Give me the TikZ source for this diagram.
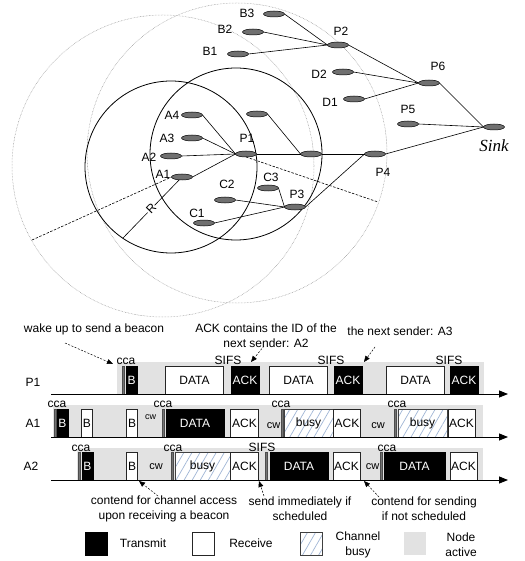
\documentclass[tikz,border=0pt]{standalone}
\usepackage{fontspec}
\setmainfont{Liberation Sans}
\newfontfamily\sinkfont{Liberation Serif}
\usetikzlibrary{shapes.geometric,arrows.meta,patterns.meta}
\definecolor{bandgray}{RGB}{226,226,226}
\definecolor{hatchblue}{RGB}{160,182,214}
\definecolor{nodegray}{RGB}{112,112,112}
\definecolor{fargray}{RGB}{150,150,150}
\begin{document}
\begin{tikzpicture}[x=1pt,y=-1pt,
  every node/.style={font=\fontsize{12}{15}\selectfont},
  sn/.style={ellipse, draw=black, fill=nodegray, line width=0.5pt, minimum width=21pt, minimum height=6pt, inner sep=0pt, outer sep=0pt},
  lbl/.style={inner sep=0pt},
  link/.style={line width=0.6pt},
  ringline/.style={line width=0.8pt},
  farline/.style={draw=fargray, line width=0.5pt, dash pattern=on 0.6pt off 0.9pt},
  rline/.style={line width=0.6pt, dash pattern=on 2.5pt off 1.5pt},
  actband/.style={fill=bandgray, draw=none},
  boxbase/.style={minimum height=28pt, inner sep=0pt, outer sep=0pt, line width=0.6pt},
  txb/.style={boxbase, draw=black, fill=black, text=white},
  rxb/.style={boxbase, draw=black!85, fill=white},
  busyb/.style={boxbase, draw=black!75, preaction={fill=white}, pattern={Lines[angle=60,distance=7pt,line width=0.7pt]}, pattern color=hatchblue},
  ccam/.style={minimum width=2pt, minimum height=28pt, inner sep=0pt, outer sep=0pt, fill=black!55, draw=black!70, line width=0.3pt},
  small/.style={inner sep=0pt, anchor=base},
  axisline/.style={line width=0.8pt, -{Triangle[length=9pt,width=7pt]}},
  note/.style={line width=0.5pt, dash pattern=on 2pt off 1.5pt, -{Triangle[length=6pt,width=5pt]}},
  twoline/.style={align=center, inner sep=0pt}
]
\useasboundingbox (0,0) rectangle (524,561);

% ---------------- range circles ----------------
\draw[farline] (163,166) circle[radius=151pt];
\draw[farline] (237,153) circle[radius=150pt];
\draw[ringline] (171,167) circle[radius=86pt];
\draw[ringline] (236,154) circle[radius=86pt];

% ---------------- sensor nodes ----------------
\node[sn] (b3) at (274,14) {};
\node[sn] (b2) at (253,32) {};
\node[sn] (b1) at (238,54) {};
\node[sn] (p2) at (338,45) {};
\node[sn] (d2) at (343,72) {};
\node[sn] (d1) at (354,99) {};
\node[sn] (p6) at (429,83) {};
\node[sn] (p5) at (408,124) {};
\node[sn] (sink) at (494,127) {};
\node[sn] (a4) at (192,115) {};
\node[sn] (a3) at (192,138) {};
\node[sn] (a2) at (171,156) {};
\node[sn] (a1) at (182,177) {};
\node[sn] (p1) at (246,154) {};
\node[sn] (u1) at (257,114) {};
\node[sn] (m1) at (311,154) {};
\node[sn] (p4) at (375,154) {};
\node[sn] (c3) at (268,188) {};
\node[sn] (c2) at (225,200) {};
\node[sn] (c1) at (204,223) {};
\node[sn] (p3) at (295,207) {};

% labels
\node[lbl] (lb3) at (247,13) {B3};
\node[lbl] (lb2) at (225,29) {B2};
\node[lbl] (lb1) at (210,51) {B1};
\node[lbl] (lp2) at (341,31) {P2};
\node[lbl] (ld2) at (319,74) {D2};
\node[lbl] (ld1) at (330,102) {D1};
\node[lbl] (lp6) at (438,66) {P6};
\node[lbl] (lp5) at (408,109) {P5};
\node[lbl, font=\sinkfont\itshape\fontsize{17}{20}\selectfont] (lsink) at (494,146) {Sink};
\node[lbl] (lp4) at (383,172) {P4};
\node[lbl] (la4) at (172,115) {A4};
\node[lbl] (la3) at (167,138) {A3};
\node[lbl] (la2) at (149,157) {A2};
\node[lbl] (la1) at (163,174) {A1};
\node[lbl] (lp1) at (247,138) {P1};
\node[lbl] (lc2) at (227,184) {C2};
\node[lbl] (lc1) at (197,213) {C1};
\node[lbl] (lc3) at (271,177) {C3};
\node[lbl] (lp3) at (297,194) {P3};

% links
\draw[link] (b3.east) -- (p2.west);
\draw[link] (b2.east) -- (p2.west);
\draw[link] (b1.east) -- (p2.west);
\draw[link] (p2.east) -- (p6.west);
\draw[link] (d2.east) -- (p6.west);
\draw[link] (d1.east) -- (p6.west);
\draw[link] (p6.east) -- (sink.west);
\draw[link] (p5.east) -- (sink.west);
\draw[link] (p4.east) -- (sink.west);
\draw[link] (a4.east) -- (p1.west);
\draw[link] (a3.east) -- (p1.west);
\draw[link] (a2.east) -- (p1.west);
\draw[link] (a1.east) -- (p1.west);
\draw[link] (p1.east) -- (m1.west);
\draw[link] (m1.east) -- (p4.west);
\draw[link] (u1.east) -- (m1.west);
\draw[link] (c3.east) -- (p3.west);
\draw[link] (c2.east) -- (p3.west);
\draw[link] (c1.east) -- (p3.west);
\draw[link] (p3.east) -- (p4.west);

% radii
\coordinate (rend) at (123,238);
\draw[link] (a1) -- (rend) node[pos=0.5, rotate=46, fill=white, inner sep=0.6pt] (rlab) {R};
\coordinate (farend1) at (32,240);
\draw[rline] (farend1) -- (a1.west);
\coordinate (farend2) at (378,202);
\draw[rline] (p1.south) -- (farend2);

% ---------------- timeline: P1 ----------------
\fill[actband] (117,362) rectangle (484,394);
\node[ccam] (p1c1) at (123,380) {};
\node[txb, minimum width=11pt] (p1b) at (131.5,380) {B};
\node[rxb, minimum width=58pt] (p1d1) at (194.5,380) {DATA};
\node[txb, minimum width=28pt] (p1k1) at (245,380) {ACK};
\node[rxb, minimum width=58pt] (p1d2) at (298.5,380) {DATA};
\node[txb, minimum width=28pt] (p1k2) at (348,380) {ACK};
\node[rxb, minimum width=58pt] (p1d3) at (415.5,380) {DATA};
\node[txb, minimum width=28pt] (p1k3) at (464,380) {ACK};
\coordinate (p1s) at (51,394);
\coordinate (p1e) at (508,394);
\draw[axisline] (p1s) -- (p1e);
\node[lbl] (rowp1) at (33,382) {P1};
\node[small] (p1cca) at (126,364) {cca};
\node[small] (p1sifs1) at (228,364) {SIFS};
\node[small] (p1sifs2) at (331,364) {SIFS};
\node[small] (p1sifs3) at (449,364) {SIFS};

% ---------------- timeline: A1 ----------------
\fill[actband] (53,405) rectangle (483,437);
\node[ccam] (a1c1) at (55,423) {};
\node[txb, minimum width=11pt] (a1b1) at (62.5,423) {B};
\node[rxb, minimum width=11pt] (a1b2) at (87,423) {B};
\node[rxb, minimum width=11pt] (a1b3) at (132,423) {B};
\node[small, font=\fontsize{9}{10}\selectfont] (a1cw1) at (150.5,419) {cw};
\node[ccam] (a1c2) at (163,423) {};
\node[txb, minimum width=58pt] (a1d1) at (195,423) {DATA};
\node[rxb, minimum width=28pt] (a1k1) at (244.5,423) {ACK};
\node[small, font=\fontsize{11}{12}\selectfont] (a1cw2) at (273.5,428) {cw};
\node[ccam] (a1c3) at (282,423) {};
\node[busyb, minimum width=49pt] (a1y1) at (308.5,423) {busy};
\node[rxb, minimum width=27pt] (a1k2) at (347,423) {ACK};
\node[small, font=\fontsize{11}{12}\selectfont] (a1cw3) at (378,428) {cw};
\node[ccam] (a1c4) at (395,423) {};
\node[busyb, minimum width=49pt] (a1y2) at (422.5,423) {busy};
\node[rxb, minimum width=27pt] (a1k3) at (461.5,423) {ACK};
\coordinate (a1s) at (51,437);
\coordinate (a1e) at (508,437);
\draw[axisline] (a1s) -- (a1e);
\node[lbl] (rowa1) at (33,423) {A1};
\node[small] (a1cca1) at (57,407.5) {cca};
\node[small] (a1cca2) at (163,407.5) {cca};
\node[small] (a1cca3) at (281,407.5) {cca};
\node[small] (a1cca4) at (397,407.5) {cca};

% ---------------- timeline: A2 ----------------
\fill[actband] (77,448) rectangle (483,480);
\node[ccam] (a2c1) at (79,466) {};
\node[txb, minimum width=11pt] (a2b1) at (87.5,466) {B};
\node[rxb, minimum width=11pt] (a2b2) at (132,466) {B};
\node[small, font=\fontsize{11}{12}\selectfont] (a2cw1) at (156,469) {cw};
\node[ccam] (a2c2) at (172,466) {};
\node[busyb, minimum width=55pt] (a2y1) at (202.5,466) {busy};
\node[rxb, minimum width=28pt] (a2k1) at (244.5,466) {ACK};
\node[ccam] (a2c3) at (266,466) {};
\node[txb, minimum width=58pt] (a2d1) at (299,466) {DATA};
\node[rxb, minimum width=27pt] (a2k2) at (346.5,466) {ACK};
\node[small, font=\fontsize{11}{12}\selectfont] (a2cw2) at (372.5,469) {cw};
\node[ccam] (a2c4) at (381,466) {};
\node[txb, minimum width=61pt] (a2d2) at (414.5,466) {DATA};
\node[rxb, minimum width=27pt] (a2k3) at (463.5,466) {ACK};
\coordinate (a2s) at (51,480);
\coordinate (a2e) at (508,480);
\draw[axisline] (a2s) -- (a2e);
\node[lbl] (rowa2) at (31,466) {A2};
\node[small] (a2cca1) at (81,451) {cca};
\node[small] (a2cca2) at (173,451) {cca};
\node[small] (a2sifs) at (262,451) {SIFS};
\node[small] (a2cca3) at (387,451) {cca};

% ---------------- annotations ----------------
\node[small] (t1) at (94,332) {wake up to send a beacon};
\coordinate (t1s) at (65,343);
\coordinate (t1e) at (113,364);
\draw[note] (t1s) -- (t1e);

\node[twoline] (t2) at (266,336) {ACK contains the ID of the\\next sender: A2};
\coordinate (t2s) at (264,346);
\coordinate (t2e) at (251,362);
\draw[note] (t2s) -- (t2e);

\node[small] (t3) at (400,335) {the next sender: A3};
\coordinate (t3s) at (375,347);
\coordinate (t3e) at (364,362);
\draw[note] (t3s) -- (t3e);

\node[twoline] (t4) at (164,509) {contend for channel access\\upon receiving a beacon};
\coordinate (t4s) at (158,496);
\coordinate (t4e) at (139,481);
\draw[note] (t4s) -- (t4e);

\node[twoline] (t5) at (300,509) {send immediately if\\scheduled};
\coordinate (t5s) at (264,496);
\coordinate (t5e) at (259,481);
\draw[note] (t5s) -- (t5e);

\node[twoline] (t6) at (424,509) {contend for sending\\if not scheduled};
\coordinate (t6s) at (379,497);
\coordinate (t6e) at (364,481);
\draw[note] (t6s) -- (t6e);

% ---------------- legend ----------------
\node[txb, minimum width=22pt, minimum height=23pt] (lgt) at (96,543.5) {};
\node[lbl] (lgtt) at (143,543) {Transmit};
\node[rxb, minimum width=22pt, minimum height=23pt] (lgr) at (203.5,543.5) {};
\node[lbl] (lgrt) at (251,543) {Receive};
\node[busyb, minimum width=22pt, minimum height=23pt] (lgb) at (311,543.5) {};
\node[twoline] (lgbt) at (358,545) {Channel\\busy};
\node[actband, minimum width=22pt, minimum height=23pt, inner sep=0pt] (lga) at (414.5,543.5) {};
\node[twoline] (lgat) at (461,545) {Node\\active};
\end{tikzpicture}
\end{document}
